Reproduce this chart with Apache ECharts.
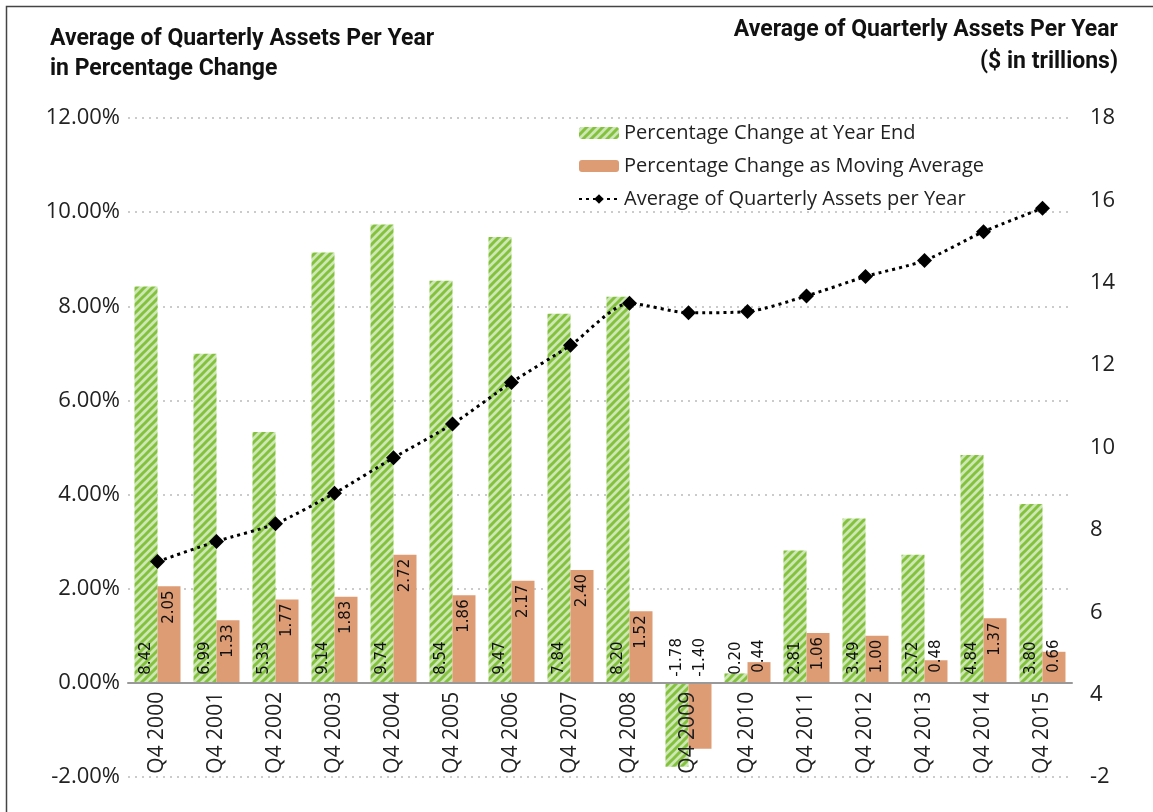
<!DOCTYPE html>
<html>
<head>
<meta charset="utf-8">
<script src="https://cdn.jsdelivr.net/npm/echarts@6/dist/echarts.min.js"></script>
<style>
  html, body { margin: 0; padding: 0; background: #fff; }
  #chart { width: 1153px; height: 812px; }
</style>
</head>
<body>
<div id="chart"></div>
<script>
// chart values
var categories = ['Q4 2000', 'Q4 2001', 'Q4 2002', 'Q4 2003', 'Q4 2004', 'Q4 2005', 'Q4 2006', 'Q4 2007',
                  'Q4 2008', 'Q4 2009', 'Q4 2010', 'Q4 2011', 'Q4 2012', 'Q4 2013', 'Q4 2014', 'Q4 2015'];
var pctYearEnd = [8.42, 6.99, 5.33, 9.14, 9.74, 8.54, 9.47, 7.84, 8.20, -1.78, 0.20, 2.81, 3.49, 2.72, 4.84, 3.80];
var pctMovingAvg = [2.05, 1.33, 1.77, 1.83, 2.72, 1.86, 2.17, 2.40, 1.52, -1.40, 0.44, 1.06, 1.00, 0.48, 1.37, 0.66];
var avgAssets = [7.23, 7.72, 8.15, 8.89, 9.75, 10.57, 11.58, 12.48, 13.50, 13.27, 13.30, 13.68, 14.15, 14.54, 15.24, 15.81];
var leftTicks = [-2, 0, 2, 4, 6, 8, 10, 12];
var rightTicks = [2, 4, 6, 8, 10, 12, 14, 16, 18];
var rightTickText = {2: '-2'};   // the source chart labels its bottom right tick "-2"

var seriesNames = ['Percentage Change at Year End', 'Percentage Change as Moving Average', 'Average of Quarterly Assets per Year'];
var leftTitle = 'Average of Quarterly Assets Per Year\nin Percentage Change';
var rightTitle = 'Average of Quarterly Assets Per Year\n($ in trillions)';

// hatched green fill
function hatch() {
    var c = document.createElement('canvas');
    c.width = 8; c.height = 8;
    var g = c.getContext('2d');
    g.fillStyle = '#cde8b6';
    g.fillRect(0, 0, 8, 8);
    g.strokeStyle = '#84c23e';
    g.lineWidth = 3;
    g.beginPath();
    g.moveTo(-4, 4); g.lineTo(4, -4);
    g.moveTo(-4, 12); g.lineTo(12, -4);
    g.moveTo(4, 12); g.lineTo(12, 4);
    g.stroke();
    return { image: c, repeat: 'repeat' };
}

function fmt(p) { return Number(p.value).toFixed(2); }

var greenData = pctYearEnd.map(function (v) {
    if (v < 0) return { value: v, label: { position: 'top', align: 'left', distance: 6 } };
    return v;
});
var orangeData = pctMovingAvg.map(function (v) {
    if (v < 0) return { value: v, label: { position: 'top', align: 'left', distance: 6 } };
    if (v >= 0.9) return { value: v, label: { position: 'insideTop', align: 'right', distance: 4 } };
    return { value: v, label: { position: 'insideBottom', align: 'left', distance: 10 } };
});

var axisFont = { fontFamily: 'Open Sans', fontSize: 22, color: '#222' };
var labelFont = { fontFamily: 'DejaVu Sans', fontSize: 15, color: '#111' };
var titleFont = { fontFamily: 'Roboto', fontWeight: 'bold', fontSize: 23, lineHeight: 30, fill: '#111' };

var gridTop = 118, gridBottom = 35, chartH = 812;
// lift the category axis from the grid bottom up to the 0% line
var zeroOffset = -(chartH - gridTop - gridBottom) * (0 - leftTicks[0]) / (leftTicks[leftTicks.length - 1] - leftTicks[0]);

var chart = echarts.init(document.getElementById('chart'));
chart.setOption({
    animation: false,
    backgroundColor: '#fff',
    graphic: [{
        type: 'rect', left: 4, top: 4, silent: true,
        shape: { width: 1300, height: 900 },
        style: { fill: 'none', stroke: '#444', lineWidth: 1.5 }
    }, {
        type: 'text', x: 50, y: 24, silent: true,
        style: Object.assign({ text: leftTitle, align: 'left' }, titleFont)
    }, {
        type: 'text', x: 1118, y: 14, silent: true,
        style: Object.assign({ text: rightTitle, align: 'right' }, titleFont, { lineHeight: 32 })
    }],
    legend: {
        orient: 'vertical', left: 573, top: 118,
        itemWidth: 40, itemHeight: 12, itemGap: 13,
        textStyle: { fontFamily: 'Open Sans', fontSize: 20, color: '#222' },
        data: seriesNames
    },
    grid: { left: 128, right: 81, top: gridTop, bottom: gridBottom, outerBoundsMode: 'none' },
    xAxis: {
        type: 'category', data: categories,
        offset: zeroOffset, z: 10,
        axisLine: { onZero: false, lineStyle: { color: '#999', width: 2 } },
        axisTick: { length: 6, lineStyle: { color: '#999', width: 2 } },
        axisLabel: { rotate: 90, margin: 9, fontSize: 21, fontFamily: 'Open Sans', color: '#222' }
    },
    yAxis: [{
        type: 'value', min: leftTicks[0], max: leftTicks[leftTicks.length - 1], interval: 2,
        axisLine: { show: false }, axisTick: { show: false },
        axisLabel: Object.assign({ margin: 8, formatter: function (v) { return v.toFixed(2) + '%'; } }, axisFont),
        splitLine: { lineStyle: { color: '#bbb', type: [2, 5], width: 1.5 } }
    }, {
        type: 'value', min: rightTicks[0], max: rightTicks[rightTicks.length - 1], interval: 2,
        axisLine: { show: false }, axisTick: { show: false },
        splitLine: { show: false },
        axisLabel: Object.assign({ margin: 18, formatter: function (v) {
            return rightTickText[v] !== undefined ? rightTickText[v] : String(v);
        } }, axisFont)
    }],
    series: [{
        name: seriesNames[0], type: 'bar', data: greenData,
        barWidth: 23, barGap: '0%',
        itemStyle: { color: hatch() },
        label: Object.assign({ show: true, rotate: 90, position: 'insideBottom', align: 'left',
                               verticalAlign: 'middle', distance: 8, formatter: fmt }, labelFont)
    }, {
        name: seriesNames[1], type: 'bar', data: orangeData,
        barWidth: 23, barGap: '0%',
        itemStyle: { color: '#de9c74' },
        label: Object.assign({ show: true, rotate: 90, verticalAlign: 'middle', formatter: fmt }, labelFont)
    }, {
        name: seriesNames[2], type: 'line', yAxisIndex: 1, data: avgAssets,
        smooth: 0.25, z: 12,
        symbol: 'diamond', symbolSize: 15,
        itemStyle: { color: '#000' },
        lineStyle: { color: '#000', width: 3, type: [3, 4] }
    }]
});
</script>
</body>
</html>
